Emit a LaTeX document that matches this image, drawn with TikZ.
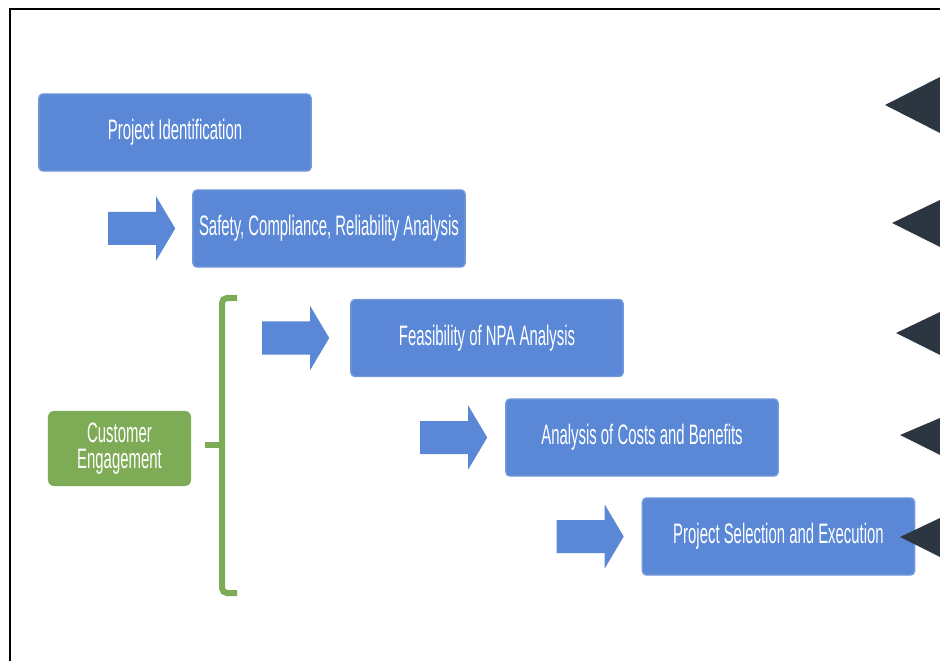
\documentclass[tikz,border=0pt]{standalone}
\usepackage{fontspec}
\setmainfont{Liberation Sans}[FakeStretch=0.53]
\definecolor{stageblue}{HTML}{5A87D6}
\definecolor{custgreen}{HTML}{7EAB55}
\definecolor{tridark}{HTML}{2C3640}
\tikzset{
  stage/.style={draw=stageblue!85!white, fill=stageblue, rounded corners=0.04cm,
    minimum width=2.72cm, minimum height=0.77cm, inner sep=0pt, text=white,
    font=\fontsize{8}{9}\selectfont},
  custbox/.style={fill=custgreen, rounded corners=0.06cm, minimum width=1.43cm,
    minimum height=0.75cm, inner sep=0pt, text=white, align=center,
    font=\fontsize{8}{7.3}\selectfont},
  brace/.style={draw=custgreen, line width=0.06cm},
  pics/blockarrow/.style={code={
    \fill[stageblue] (0,0) -- (-19,-32) -- (-19,-16.5) -- (-67,-16.5)
      -- (-67,16.5) -- (-19,16.5) -- (-19,32) -- cycle;}}
}
\begin{document}
\begin{tikzpicture}[x=0.01cm, y=-0.01cm]
\useasboundingbox (0,0) rectangle (940,661);
\draw[line width=0.02cm] (10,661) -- (10,9) -- (940,9);

\node[stage] (ident) at (175,132.5) {Project Identification};
\node[stage] (safety) at (329,228.5) {Safety, Compliance, Reliability Analysis};
\node[stage] (feas) at (487,338) {Feasibility of NPA Analysis};
\node[stage] (costs) at (642,437.5) {Analysis of Costs and Benefits};
\node[stage] (select) at (778.5,536.5) {Project Selection and Execution};
\node[custbox] (cust) at (119.5,448.5) {Customer\\Engagement};

\pic at ([xshift=-0.17cm]safety.west) {blockarrow};
\pic at ([xshift=-0.21cm]feas.west) {blockarrow};
\pic at ([xshift=-0.18cm]costs.west) {blockarrow};
\pic at ([xshift=-0.18cm]select.west) {blockarrow};

% brace
\path[brace, rounded corners=0.05cm] (237,298) -- (222,298) -- (222,593) -- (237,593);
\path[brace] (205,445) -- (222,445);

% pointers on the right edge
\fill[tridark] (885,105) -- (940,77) -- (940,133) -- cycle;
\fill[tridark] (892,223) -- (940,200) -- (940,247) -- cycle;
\fill[tridark] (896,333) -- (940,312) -- (940,355) -- cycle;
\fill[tridark] (900,435) -- (940,418) -- (940,455) -- cycle;
\fill[tridark] (900,537) -- (940,518) -- (940,557) -- cycle;
\end{tikzpicture}
\end{document}
